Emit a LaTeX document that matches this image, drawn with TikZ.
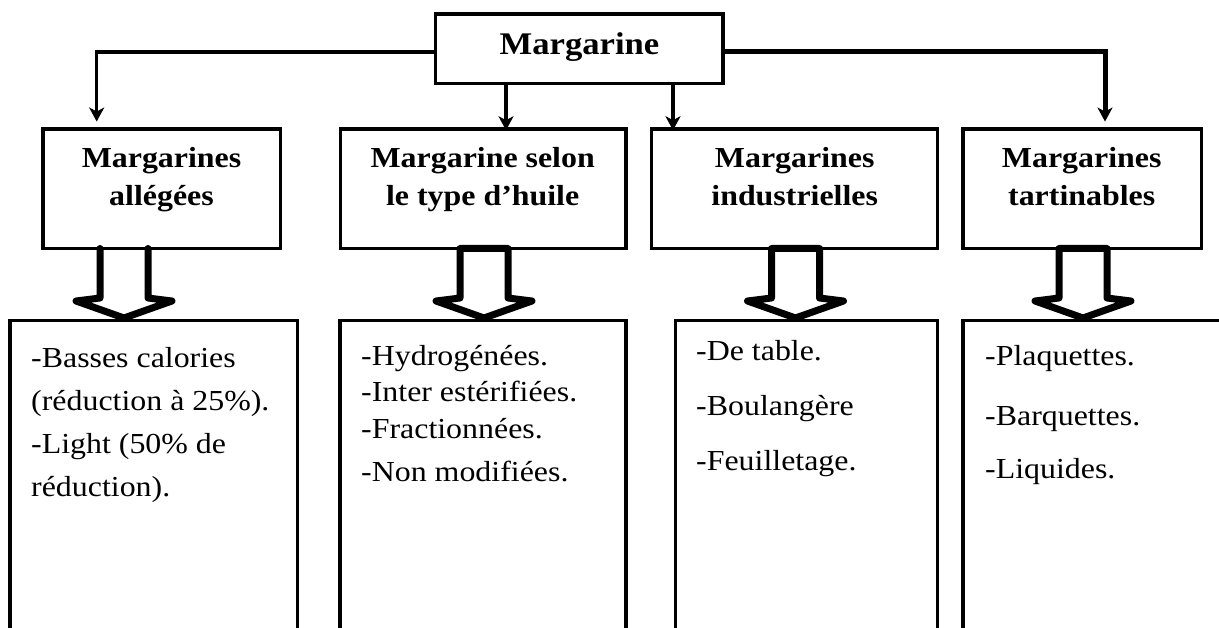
\documentclass[tikz,border=0pt]{standalone}
\usepackage{fontspec}
\setmainfont{Liberation Serif}[FakeStretch=1.1]
\usetikzlibrary{arrows.meta,calc}
\newcommand\blkarrow[3]{\draw[blk] ({#1-24},#2) -- ({#1-24},298) -- ({#1-48},301) -- (#1,#3) -- ({#1+48},301) -- ({#1+24},298) -- ({#1+24},#2) -- cycle;}
\newcommand\blkarrowopen[3]{\draw[blk,fill=none] ({#1-24},#2) -- ({#1-24},298) -- ({#1-48},301) -- (#1,#3) -- ({#1+48},301) -- ({#1+24},298) -- ({#1+24},#2);}
\begin{document}
\begin{tikzpicture}[x=1pt,y=-1pt,
  box/.style={draw,line width=3.5pt,rectangle,inner sep=0pt},
  conn/.style={line width=3.5pt,-{Stealth[length=14pt,width=15pt,inset=4pt]}},
  headtxt/.style={font=\fontsize{29}{38}\selectfont\bfseries,align=center,inner sep=0pt,anchor=north},
  bodytxt/.style={font=\fontsize{29}{43}\selectfont,align=left,inner sep=0pt,anchor=north west},
  blk/.style={draw,fill=white,line width=7pt,line join=round,line cap=round}]
\useasboundingbox (0,0) rectangle (1219,628);
\clip (0,0) rectangle (1219,628);
% top box
\node[box,minimum width=287.5pt,minimum height=69.5pt] (top) at (579.25,48.75) {};
\node[font=\fontsize{31.5}{38}\selectfont\bfseries,anchor=base,inner sep=0pt] (ttop) at (579.5,55) {Margarine};
% category boxes
\node[box,minimum width=237.5pt,minimum height=119.5pt] (b1) at (161.75,188.75) {};
\node[box,minimum width=285.5pt,minimum height=119.5pt] (b2) at (483.25,188.75) {};
\node[box,minimum width=286pt,minimum height=119.5pt] (b3) at (794.5,188.75) {};
\node[box,minimum width=238.5pt,minimum height=119.5pt] (b4) at (1082.25,188.75) {};
\node[headtxt] (h1) at (161.5,147) {Margarines\\allégées};
\node[headtxt] (h2) at (482.7,147) {Margarine selon\\le type d’huile};
\node[headtxt] (h3) at (794.7,147) {Margarines\\industrielles};
\node[headtxt] (h4) at (1081.7,147) {Margarines\\tartinables};
% lower boxes (open at the bottom)
\node[box,minimum width=287.5pt,minimum height=379.5pt] (l1) at (153.75,510.25) {};
\node[box,minimum width=286pt,minimum height=379.5pt] (l2) at (483,510.25) {};
\node[box,minimum width=262pt,minimum height=379.5pt] (l3) at (806.5,510.25) {};
\node[box,minimum width=297pt,minimum height=379.5pt] (l4) at (1111.5,510.25) {};
\node[bodytxt] (t1) at (31,347) {-Basses calories\\(réduction à 25\%).\\-Light (50\% de\\réduction).};
\node[bodytxt,font=\fontsize{29}{36.5}\selectfont] (t2) at (361,345) {-Hydrogénées.\\-Inter estérifiées.\\-Fractionnées.\\[7pt]-Non modifiées.};
\node[bodytxt,font=\fontsize{29}{55}\selectfont] (t3) at (696,340) {-De table.\\-Boulangère\\-Feuilletage.};
\node[bodytxt,font=\fontsize{29}{53}\selectfont] (t4) at (985,345) {-Plaquettes.\\[7pt]-Barquettes.\\-Liquides.};
% connectors from the top box
\coordinate (hy) at (0,52);
\coordinate (a1) at (96.7,0);
\coordinate (a2) at (506,0);
\coordinate (a3) at (673,0);
\coordinate (a4) at (1105,0);
\draw[conn,shorten >=5.7pt] (top.west |- hy) -| (b1.north -| a1);
\draw[conn,shorten >=-3pt] (top.south -| a2) -- (b2.north -| a2);
\draw[conn,shorten >=-3pt] (top.south -| a3) -- (b3.north -| a3);
\draw[conn,line width=5pt,shorten >=5.7pt] (top.east |- hy) -| (b4.north -| a4);
% block arrows
\blkarrowopen{124}{248.5}{318}
\blkarrow{484}{248.5}{318}
\blkarrow{795.5}{248.5}{318}
\blkarrow{1083}{248.5}{318}
\end{tikzpicture}
\end{document}
